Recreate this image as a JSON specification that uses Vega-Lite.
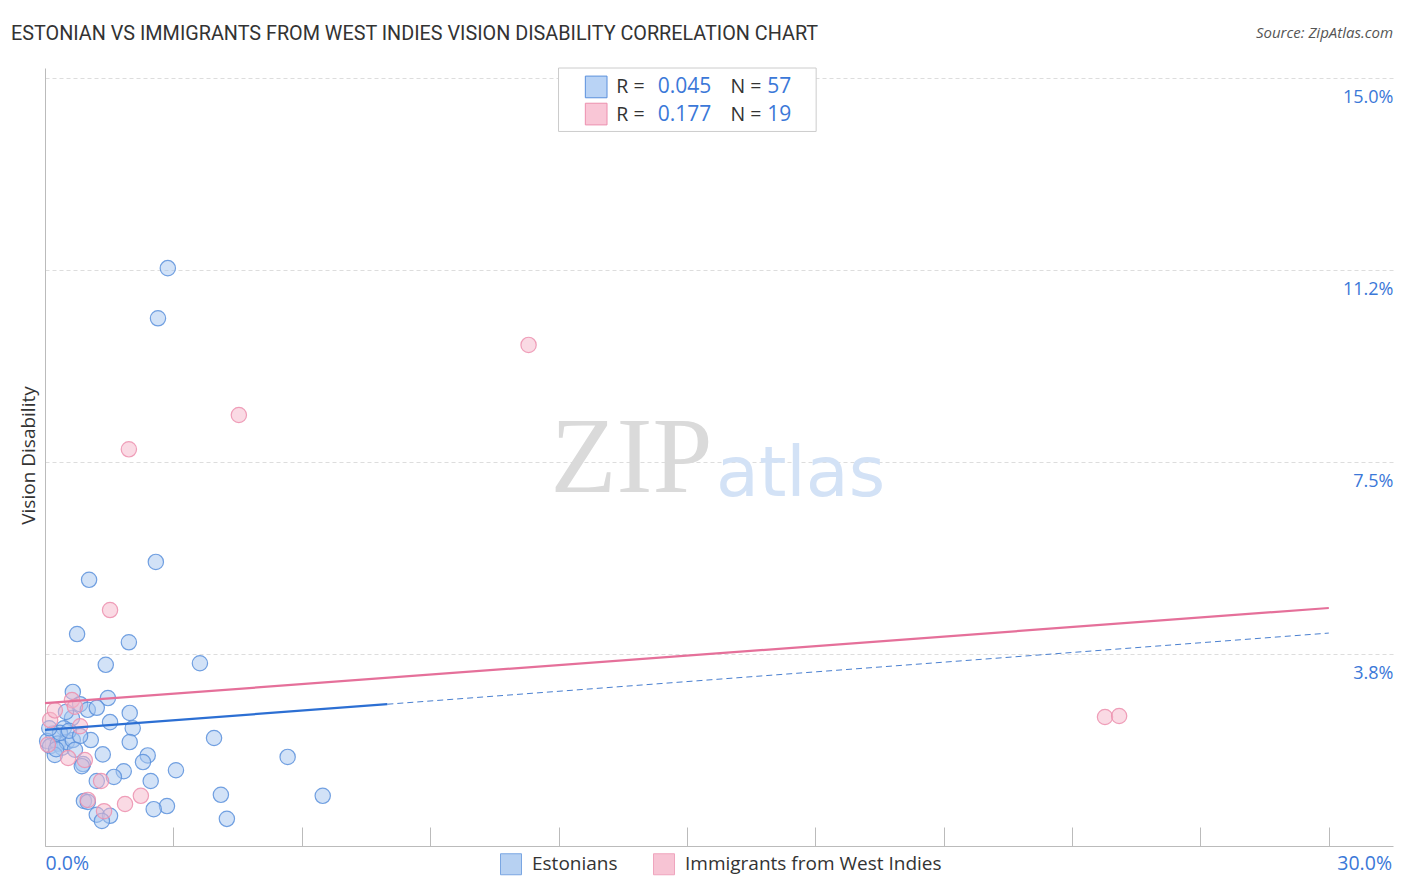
{
  "$schema": "https://vega.github.io/schema/vega-lite/v6.json",
  "width": 1348,
  "height": 778,
  "autosize": "none",
  "padding": {"left": 45, "top": 68, "right": 13, "bottom": 46},
  "background": "white",
  "title": {
    "text": "ESTONIAN VS IMMIGRANTS FROM WEST INDIES VISION DISABILITY CORRELATION CHART",
    "anchor": "start",
    "font": "Roboto",
    "fontSize": 19.8,
    "fontWeight": "normal",
    "color": "#333333",
    "dx": -8,
    "offset": -18
  },
  "config": {"view": {"stroke": null}, "font": "Open Sans"},
  "datasets": {
    "points": [
      {"group": "Estonians", "x": 2.87, "y": 11.29},
      {"group": "Estonians", "x": 2.64, "y": 10.31},
      {"group": "Estonians", "x": 2.59, "y": 5.55},
      {"group": "Estonians", "x": 1.03, "y": 5.2},
      {"group": "Estonians", "x": 0.75, "y": 4.14},
      {"group": "Estonians", "x": 1.96, "y": 3.98},
      {"group": "Estonians", "x": 1.42, "y": 3.54},
      {"group": "Estonians", "x": 3.62, "y": 3.57},
      {"group": "Estonians", "x": 0.65, "y": 3.01},
      {"group": "Estonians", "x": 1.47, "y": 2.89},
      {"group": "Estonians", "x": 0.82, "y": 2.77},
      {"group": "Estonians", "x": 1.0, "y": 2.66},
      {"group": "Estonians", "x": 1.98, "y": 2.6},
      {"group": "Estonians", "x": 1.52, "y": 2.42},
      {"group": "Estonians", "x": 2.05, "y": 2.3},
      {"group": "Estonians", "x": 0.63, "y": 2.5},
      {"group": "Estonians", "x": 0.44, "y": 2.3},
      {"group": "Estonians", "x": 1.07, "y": 2.07},
      {"group": "Estonians", "x": 1.98, "y": 2.03},
      {"group": "Estonians", "x": 3.95, "y": 2.11},
      {"group": "Estonians", "x": 2.4, "y": 1.77},
      {"group": "Estonians", "x": 1.35, "y": 1.79},
      {"group": "Estonians", "x": 2.29, "y": 1.64},
      {"group": "Estonians", "x": 0.89, "y": 1.6},
      {"group": "Estonians", "x": 5.67, "y": 1.74},
      {"group": "Estonians", "x": 1.84, "y": 1.46},
      {"group": "Estonians", "x": 3.06, "y": 1.48},
      {"group": "Estonians", "x": 1.61, "y": 1.35},
      {"group": "Estonians", "x": 2.47, "y": 1.27},
      {"group": "Estonians", "x": 1.21, "y": 1.27},
      {"group": "Estonians", "x": 4.11, "y": 1.0},
      {"group": "Estonians", "x": 6.49, "y": 0.98},
      {"group": "Estonians", "x": 0.91, "y": 0.88},
      {"group": "Estonians", "x": 1.0, "y": 0.86},
      {"group": "Estonians", "x": 2.85, "y": 0.78},
      {"group": "Estonians", "x": 2.54, "y": 0.72},
      {"group": "Estonians", "x": 1.21, "y": 0.61},
      {"group": "Estonians", "x": 1.52, "y": 0.59},
      {"group": "Estonians", "x": 1.33, "y": 0.49},
      {"group": "Estonians", "x": 4.25, "y": 0.53},
      {"group": "Estonians", "x": 0.19, "y": 2.2},
      {"group": "Estonians", "x": 0.05, "y": 2.05},
      {"group": "Estonians", "x": 0.12, "y": 1.95},
      {"group": "Estonians", "x": 0.3, "y": 2.0},
      {"group": "Estonians", "x": 0.4, "y": 1.92},
      {"group": "Estonians", "x": 0.51, "y": 2.03},
      {"group": "Estonians", "x": 0.23, "y": 1.78},
      {"group": "Estonians", "x": 0.65, "y": 2.07},
      {"group": "Estonians", "x": 0.35, "y": 2.21},
      {"group": "Estonians", "x": 0.56, "y": 2.25},
      {"group": "Estonians", "x": 0.1, "y": 2.3},
      {"group": "Estonians", "x": 0.82, "y": 2.15},
      {"group": "Estonians", "x": 0.26, "y": 1.89},
      {"group": "Estonians", "x": 0.7, "y": 1.88},
      {"group": "Estonians", "x": 0.86, "y": 1.56},
      {"group": "Estonians", "x": 0.49, "y": 2.62},
      {"group": "Estonians", "x": 1.21, "y": 2.7},
      {"group": "Immigrants from West Indies", "x": 11.3, "y": 9.79},
      {"group": "Immigrants from West Indies", "x": 4.53, "y": 8.42},
      {"group": "Immigrants from West Indies", "x": 1.96, "y": 7.75},
      {"group": "Immigrants from West Indies", "x": 1.52, "y": 4.61},
      {"group": "Immigrants from West Indies", "x": 24.77, "y": 2.52},
      {"group": "Immigrants from West Indies", "x": 25.1, "y": 2.54},
      {"group": "Immigrants from West Indies", "x": 0.63, "y": 2.85},
      {"group": "Immigrants from West Indies", "x": 0.7, "y": 2.72},
      {"group": "Immigrants from West Indies", "x": 0.12, "y": 2.46},
      {"group": "Immigrants from West Indies", "x": 0.23, "y": 2.65},
      {"group": "Immigrants from West Indies", "x": 0.82, "y": 2.34},
      {"group": "Immigrants from West Indies", "x": 0.54, "y": 1.72},
      {"group": "Immigrants from West Indies", "x": 0.93, "y": 1.68},
      {"group": "Immigrants from West Indies", "x": 1.31, "y": 1.27},
      {"group": "Immigrants from West Indies", "x": 2.24, "y": 0.98},
      {"group": "Immigrants from West Indies", "x": 1.87, "y": 0.82},
      {"group": "Immigrants from West Indies", "x": 1.38, "y": 0.68},
      {"group": "Immigrants from West Indies", "x": 1.0, "y": 0.9},
      {"group": "Immigrants from West Indies", "x": 0.07, "y": 1.98}
    ]
  },
  "layer": [
    {
      "data": {"name": "points"},
      "mark": {"type": "circle", "size": 235, "fillOpacity": 0.5, "strokeWidth": 1.2, "strokeOpacity": 0.85},
      "encoding": {
        "x": {
          "field": "x", "type": "quantitative",
          "scale": {"domain": [0, 31.5], "nice": false, "zero": false},
          "axis": {
            "values": [0, 3, 6, 9, 12, 15, 18, 21, 24, 27, 30],
            "title": null,
            "grid": false,
            "domain": true, "domainColor": "#bbbbbb", "domainWidth": 1,
            "ticks": true, "tickSize": -19, "tickColor": "#bbbbbb", "tickWidth": 1,
            "labelExpr": "datum.value == 0 ? '0.0%' : (datum.value == 30 ? '30.0%' : '')",
            "labelColor": "#3b78d8", "labelFontSize": 19.5, "labelFont": "Open Sans",
            "labelAlign": "left", "labelPadding": 27,
            "labelOffset": {"condition": {"test": "datum.value == 30", "value": 8}, "value": 0},
            "labelFlush": false, "labelOverlap": false
          }
        },
        "y": {
          "field": "y", "type": "quantitative",
          "scale": {"domain": [0, 15.2], "nice": false},
          "axis": {
            "values": [3.75, 7.5, 11.25, 15],
            "title": "Vision Disability",
            "titleX": -17, "titleY": 387, "titleAngle": -90,
            "titleBaseline": "middle", "titleAlign": "center",
            "titleFontSize": 19, "titleFont": "Open Sans", "titleFontWeight": "normal", "titleColor": "#333333",
            "grid": true, "gridColor": "#dddddd", "gridDash": [4, 3], "gridWidth": 1,
            "domain": true, "domainColor": "#bbbbbb", "domainWidth": 1,
            "ticks": false,
            "labelExpr": "datum.value == 3.75 ? '3.8%' : (datum.value == 7.5 ? '7.5%' : (datum.value == 11.25 ? '11.2%' : '15.0%'))",
            "labelColor": "#3b78d8", "labelFontSize": 18, "labelFont": "Open Sans",
            "labelAlign": "right", "labelPadding": -1348, "labelBaseline": "middle", "labelOffset": 19,
            "labelFlush": false, "labelOverlap": false
          }
        },
        "color": {
          "field": "group", "type": "nominal",
          "scale": {"domain": ["Estonians", "Immigrants from West Indies"], "range": ["#a6c6f0", "#f6b6ca"]},
          "legend": {
            "orient": "none", "legendX": 455, "legendY": 785, "direction": "horizontal",
            "title": null, "symbolType": "square", "symbolSize": 441, "labelLimit": 500,
            "labelFontSize": 19, "labelFont": "Open Sans", "labelColor": "#333333",
            "columnPadding": 33, "labelOffset": 10, "padding": 0, "symbolStrokeWidth": 1, "symbolOpacity": 0.8
          }
        },
        "stroke": {
          "field": "group", "type": "nominal",
          "scale": {"domain": ["Estonians", "Immigrants from West Indies"], "range": ["#5a90dc", "#ec8fae"]},
          "legend": {
            "orient": "none", "legendX": 455, "legendY": 785, "direction": "horizontal",
            "title": null, "symbolType": "square", "symbolSize": 441, "labelLimit": 500,
            "labelFontSize": 19, "labelFont": "Open Sans", "labelColor": "#333333",
            "columnPadding": 33, "labelOffset": 10, "padding": 0, "symbolStrokeWidth": 1, "symbolOpacity": 0.8
          }
        }
      }
    },
    {
      "data": {"values": [{"t": "ZIP"}]},
      "mark": {"type": "text", "font": "Liberation Serif", "fontSize": 108, "color": "#dadada", "align": "right", "baseline": "alphabetic"},
      "encoding": {
        "x": {"datum": 15.6, "type": "quantitative", "scale": {"domain": [0, 31.5], "nice": false, "zero": false}, "title": null},
        "y": {"datum": 6.91, "type": "quantitative", "scale": {"domain": [0, 15.2], "nice": false}, "title": "Vision Disability"},
        "text": {"field": "t"}
      }
    },
    {
      "data": {"values": [{"t": "atlas"}]},
      "mark": {"type": "text", "font": "DejaVu Sans", "fontSize": 70, "color": "#d3e2f6", "align": "left", "baseline": "alphabetic"},
      "encoding": {
        "x": {"datum": 15.68, "type": "quantitative", "scale": {"domain": [0, 31.5], "nice": false, "zero": false}, "title": null},
        "y": {"datum": 6.84, "type": "quantitative", "scale": {"domain": [0, 15.2], "nice": false}, "title": "Vision Disability"},
        "text": {"field": "t"}
      }
    },
    {
      "data": {"values": [{"x": 0, "y": 2.79}, {"x": 30, "y": 4.65}]},
      "mark": {"type": "line", "color": "#e5709a", "strokeWidth": 2.2},
      "encoding": {
        "x": {"field": "x", "type": "quantitative", "scale": {"domain": [0, 31.5], "nice": false, "zero": false}, "title": null},
        "y": {"field": "y", "type": "quantitative", "scale": {"domain": [0, 15.2], "nice": false}, "title": "Vision Disability"}
      }
    },
    {
      "data": {"values": [{"x": 0, "y": 2.27}, {"x": 8, "y": 2.77}]},
      "mark": {"type": "line", "color": "#2c6fd3", "strokeWidth": 2.2},
      "encoding": {
        "x": {"field": "x", "type": "quantitative", "scale": {"domain": [0, 31.5], "nice": false, "zero": false}, "title": null},
        "y": {"field": "y", "type": "quantitative", "scale": {"domain": [0, 15.2], "nice": false}, "title": "Vision Disability"}
      }
    },
    {
      "data": {"values": [{"x": 8, "y": 2.77}, {"x": 30, "y": 4.16}]},
      "mark": {"type": "line", "color": "#4a80d0", "strokeWidth": 1, "strokeDash": [6, 4]},
      "encoding": {
        "x": {"field": "x", "type": "quantitative", "scale": {"domain": [0, 31.5], "nice": false, "zero": false}, "title": null},
        "y": {"field": "y", "type": "quantitative", "scale": {"domain": [0, 15.2], "nice": false}, "title": "Vision Disability"}
      }
    },
    {
      "data": {"values": [{"box": "stats"}]},
      "mark": {"type": "rect", "fill": "white", "stroke": "#cccccc", "strokeWidth": 1},
      "encoding": {
        "x": {"datum": 12.0, "type": "quantitative", "scale": {"domain": [0, 31.5], "nice": false, "zero": false}, "title": null},
        "x2": {"datum": 18.02},
        "y": {"datum": 15.2, "type": "quantitative", "scale": {"domain": [0, 15.2], "nice": false}, "title": "Vision Disability"},
        "y2": {"datum": 13.96}
      }
    },
    {
      "data": {"values": [{"group": "Estonians", "ry": 14.83}, {"group": "Immigrants from West Indies", "ry": 14.3}]},
      "mark": {"type": "square", "size": 470, "filled": true, "strokeWidth": 1, "opacity": 1},
      "encoding": {
        "x": {"datum": 12.88, "type": "quantitative", "scale": {"domain": [0, 31.5], "nice": false, "zero": false}, "title": null},
        "y": {"field": "ry", "type": "quantitative", "scale": {"domain": [0, 15.2], "nice": false}, "title": "Vision Disability"},
        "fill": {"field": "group", "type": "nominal", "scale": {"domain": ["Estonians", "Immigrants from West Indies"], "range": ["#b9d3f5", "#f9c6d6"]}, "legend": null},
        "stroke": {"field": "group", "type": "nominal", "legend": null}
      }
    },
    {
      "data": {"values": [{"t": "R =", "ry": 14.82}, {"t": "R =", "ry": 14.29}]},
      "mark": {"type": "text", "fontSize": 19.5, "color": "#333333", "align": "left", "baseline": "middle"},
      "encoding": {
        "x": {"datum": 13.35, "type": "quantitative", "scale": {"domain": [0, 31.5], "nice": false, "zero": false}, "title": null},
        "y": {"field": "ry", "type": "quantitative", "scale": {"domain": [0, 15.2], "nice": false}, "title": "Vision Disability"},
        "text": {"field": "t"}
      }
    },
    {
      "data": {"values": [{"t": "0.045", "ry": 14.82}, {"t": "0.177", "ry": 14.29}]},
      "mark": {"type": "text", "fontSize": 21, "color": "#3b78d8", "align": "right", "baseline": "middle"},
      "encoding": {
        "x": {"datum": 15.57, "type": "quantitative", "scale": {"domain": [0, 31.5], "nice": false, "zero": false}, "title": null},
        "y": {"field": "ry", "type": "quantitative", "scale": {"domain": [0, 15.2], "nice": false}, "title": "Vision Disability"},
        "text": {"field": "t"}
      }
    },
    {
      "data": {"values": [{"t": "N =", "ry": 14.82}, {"t": "N =", "ry": 14.29}]},
      "mark": {"type": "text", "fontSize": 19.5, "color": "#333333", "align": "left", "baseline": "middle"},
      "encoding": {
        "x": {"datum": 16.02, "type": "quantitative", "scale": {"domain": [0, 31.5], "nice": false, "zero": false}, "title": null},
        "y": {"field": "ry", "type": "quantitative", "scale": {"domain": [0, 15.2], "nice": false}, "title": "Vision Disability"},
        "text": {"field": "t"}
      }
    },
    {
      "data": {"values": [{"t": "57", "ry": 14.82}, {"t": "19", "ry": 14.29}]},
      "mark": {"type": "text", "fontSize": 21, "color": "#3b78d8", "align": "right", "baseline": "middle"},
      "encoding": {
        "x": {"datum": 17.44, "type": "quantitative", "scale": {"domain": [0, 31.5], "nice": false, "zero": false}, "title": null},
        "y": {"field": "ry", "type": "quantitative", "scale": {"domain": [0, 15.2], "nice": false}, "title": "Vision Disability"},
        "text": {"field": "t"}
      }
    },
    {
      "data": {"values": [{"t": "Source: ZipAtlas.com"}]},
      "mark": {"type": "text", "fontSize": 15, "fontStyle": "italic", "color": "#555555", "align": "right", "baseline": "middle"},
      "encoding": {
        "x": {"datum": 31.5, "type": "quantitative", "scale": {"domain": [0, 31.5], "nice": false, "zero": false}, "title": null},
        "y": {"datum": 15.88, "type": "quantitative", "scale": {"domain": [0, 15.2], "nice": false}, "title": "Vision Disability"},
        "text": {"field": "t"}
      }
    }
  ]
}
